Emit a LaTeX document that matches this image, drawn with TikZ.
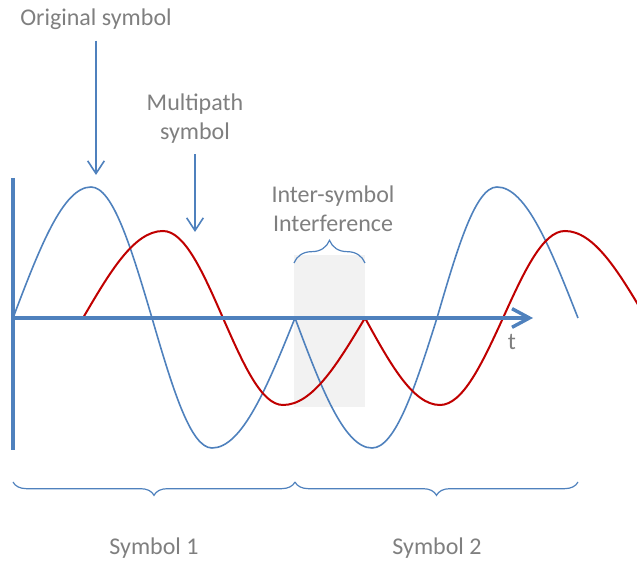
\documentclass[tikz,border=0pt]{standalone}
\usepackage{fontspec}
\setmainfont{Carlito}
\usetikzlibrary{arrows.meta,decorations.pathreplacing}

\tikzset{every picture/.style={line width=0.75pt}}
\tikzset{
	caption/.style={text={rgb, 255:red, 127; green, 127; blue, 127 }, font=\fontsize{18}{21.75}\selectfont, inner sep=0pt, align=center, anchor=base},
	blue line/.style={draw={rgb, 255:red, 79; green, 129; blue, 189 }},
	red line/.style={draw={rgb, 255:red, 192; green, 0; blue, 0 }},
	pointer/.style={blue line, line width=1.2pt, shorten <=7.5pt, -{Straight Barb[length=9.5pt,width=12.5pt]}},
}

\begin{document}
\begin{tikzpicture}[x=0.75pt,y=0.75pt,yscale=-1,xscale=1]
	\useasboundingbox (0,0) rectangle (637,563);

	%Shape: Rectangle
	\draw  [draw opacity=0][fill={rgb, 255:red, 242; green, 242; blue, 242 }  ,fill opacity=1 ] (294,255) rectangle (365,407) ;

	%Curve Lines
	\draw  [blue line, line width=1.2pt]  (13,318) .. controls (39.1,249.2) and (62.8,187) .. (91,187) .. controls (113.1,187) and (131.6,249.2) .. (152,318) .. controls (172.1,386.8) and (190.3,448) .. (212,448) .. controls (242,448) and (267.3,386.8) .. (295,318) ;
	%Curve Lines
	\draw  [blue line, line width=1.2pt]  (295,318) .. controls (320.7,386.8) and (344.1,448) .. (372,448) .. controls (395.5,448) and (415.3,386.8) .. (437,318) .. controls (457.1,249.2) and (475.3,187) .. (497,187) .. controls (526.3,187) and (550.9,249.2) .. (578,318) ;

	\begin{scope}
	\clip (0,0) rectangle (637,563);
	%Curve Lines
	\draw  [red line, line width=1.5pt]  (83,318) .. controls (109.7,272.3) and (134,231) .. (163,231) .. controls (184.7,231) and (203,272.3) .. (223,318) .. controls (243.1,363.7) and (261.3,405) .. (283,405) .. controls (312.7,405) and (337.6,363.7) .. (365,318) ;
	%Curve Lines
	\draw  [red line, line width=1.5pt]  (365,318) .. controls (390.1,363.7) and (412.9,405) .. (440,405) .. controls (462.8,405) and (482,363.7) .. (503,318) .. controls (523.7,272.3) and (542.6,231) .. (565,231) .. controls (594.3,231) and (618.9,272.3) .. (646,318) ;
	\end{scope}

	%Straight Lines
	\draw  [blue line, line width=2.6pt]  (13,178) -- (13,450) ;
	%Straight Lines
	\draw  [blue line, line width=2.6pt, -{Straight Barb[length=13pt,width=14pt]}]  (13,318) -- (533,318) ;

	%Braces
	\draw  [blue line, line width=0.9pt, decorate, decoration={brace, amplitude=17pt}]  (294,263) -- (365,263) ;
	\draw  [blue line, line width=0.9pt, decorate, decoration={brace, mirror, amplitude=10pt}]  (13,482) -- (295,482) ;
	\draw  [blue line, line width=0.9pt, decorate, decoration={brace, mirror, amplitude=10pt}]  (295,482) -- (578,482) ;

	% Text Node
	\draw (96,26) node [caption] (orig) {Original symbol};
	% Text Node
	\draw (195,140) node [caption] (multi) {Multipath\\symbol};
	% Text Node
	\draw (333,232) node [caption] (isi) {Inter-symbol\\Interference};
	% Text Node
	\draw (512,350) node [caption] (t) {t};
	% Text Node
	\draw (154,555) node [caption] (sym1) {Symbol 1};
	% Text Node
	\draw (437,555) node [caption] (sym2) {Symbol 2};

	\coordinate (origtip) at (96,175);
	\coordinate (multitip) at (195,232);
	%Straight Lines
	\draw  [pointer]  (orig.south) -- (origtip) ;
	%Straight Lines
	\draw  [pointer]  (multi.south) -- (multitip) ;

\end{tikzpicture}
\end{document}
